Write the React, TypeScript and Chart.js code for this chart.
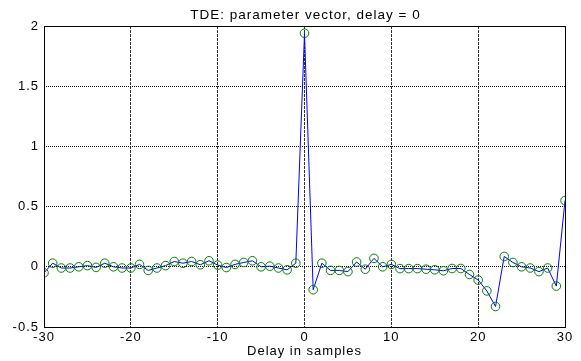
import React, { useEffect, useRef } from "react";
import { Chart, registerables } from "chart.js";

Chart.register(...registerables);

const delays = [
  -30, -29, -28, -27, -26, -25, -24, -23, -22, -21,
  -20, -19, -18, -17, -16, -15, -14, -13, -12, -11,
  -10, -9, -8, -7, -6, -5, -4, -3, -2, -1,
  0, 1, 2, 3, 4, 5, 6, 7, 8, 9,
  10, 11, 12, 13, 14, 15, 16, 17, 18, 19,
  20, 21, 22, 23, 24, 25, 26, 27, 28, 29, 30,
];

const paramValues = [
  -0.05, 0.03, -0.01, -0.01, 0.0, 0.01, -0.005, 0.03, 0.0, -0.01,
  -0.01, 0.02, -0.03, -0.01, 0.01, 0.044, 0.03, 0.044, 0.017, 0.05,
  0.014, -0.006, 0.02, 0.036, 0.05, 0.0, 0.005, -0.01, -0.025, 0.03,
  1.94, -0.19, 0.03, -0.03, -0.03, -0.04, 0.04, -0.02, 0.07, 0.0,
  0.02, -0.015, -0.015, -0.015, -0.02, -0.025, -0.033, -0.014, -0.014, -0.064,
  -0.11, -0.2, -0.33, 0.086, 0.036, 0.0, -0.01, -0.04, -0.01, -0.16, 0.55,
];

const titleText = "TDE: parameter vector, delay = 0";
const xLabel = "Delay in samples";

const FONT = "'Liberation Sans', Arial, sans-serif";

const spacingPlugin = {
  id: "spacing",
  beforeUpdate(chart: any) {
    (chart.ctx as any).letterSpacing = "1px";
  },
  beforeDraw(chart: any) {
    (chart.ctx as any).letterSpacing = "1px";
  },
};

const framePlugin = {
  id: "frameAndTitle",
  afterDraw(chart: any) {
    const { ctx, chartArea } = chart;
    const { left, right, top, bottom } = chartArea;
    ctx.save();
    ctx.strokeStyle = "#000";
    ctx.lineWidth = 1;
    ctx.setLineDash([]);
    ctx.strokeRect(Math.round(left) + 0.5, Math.round(top) + 0.5, Math.round(right - left), Math.round(bottom - top));
    ctx.fillStyle = "#000";
    (ctx as any).letterSpacing = "1px";
    ctx.font = `13.5px ${FONT}`;
    ctx.textAlign = "center";
    ctx.textBaseline = "alphabetic";
    ctx.fillText(titleText, (left + right) / 2 + 1, 19);
    ctx.restore();
  },
};

export default function App() {
  const ref = useRef<HTMLCanvasElement>(null);

  useEffect(() => {
    if (!ref.current) return;
    const points = delays.map((d, i) => ({ x: d, y: paramValues[i] }));
    const chart = new Chart(ref.current, {
      type: "line",
      data: {
        datasets: [
          {
            data: points,
            borderColor: "#0000ff",
            borderWidth: 1,
            pointRadius: 4.3,
            pointBorderColor: "#008000",
            pointBackgroundColor: "rgba(0,0,0,0)",
            pointBorderWidth: 1,
            tension: 0,
          },
        ],
      },
      options: {
        responsive: false,
        animation: false,
        layout: { padding: { top: 26, right: 16, left: 0, bottom: 0 } },
        plugins: { legend: { display: false }, tooltip: { enabled: false }, title: { display: false } },
        scales: {
          x: {
            type: "linear",
            min: -30,
            max: 30,
            ticks: { stepSize: 10, color: "#000", font: { family: FONT, size: 13 }, padding: 3, maxRotation: 0 },
            grid: { color: "#333", drawTicks: false },
            border: { display: false, dash: [3, 1] },
            title: { display: true, text: xLabel, color: "#000", font: { family: FONT, size: 13, lineHeight: 1 }, padding: { top: 0, bottom: 3 } },
            afterFit: (s: any) => { s.width = s.width; s.height = 34; },
          },
          y: {
            min: -0.5,
            max: 2,
            ticks: {
              stepSize: 0.5,
              color: "#000",
              font: { family: FONT, size: 13 },
              padding: 5,
              callback: (v: any) => String(v),
            },
            grid: { color: "#000", drawTicks: false },
            border: { display: false, dash: [1, 1] },
            afterFit: (s: any) => { s.width = 44; },
          },
        },
      },
      plugins: [spacingPlugin, framePlugin],
    });
    return () => chart.destroy();
  }, []);

  return (
    <div style={{ position: "absolute", left: 0, top: 0, width: 581, height: 361 }}>
      <canvas ref={ref} width={581} height={361} style={{ display: "block" }} />
    </div>
  );
}
